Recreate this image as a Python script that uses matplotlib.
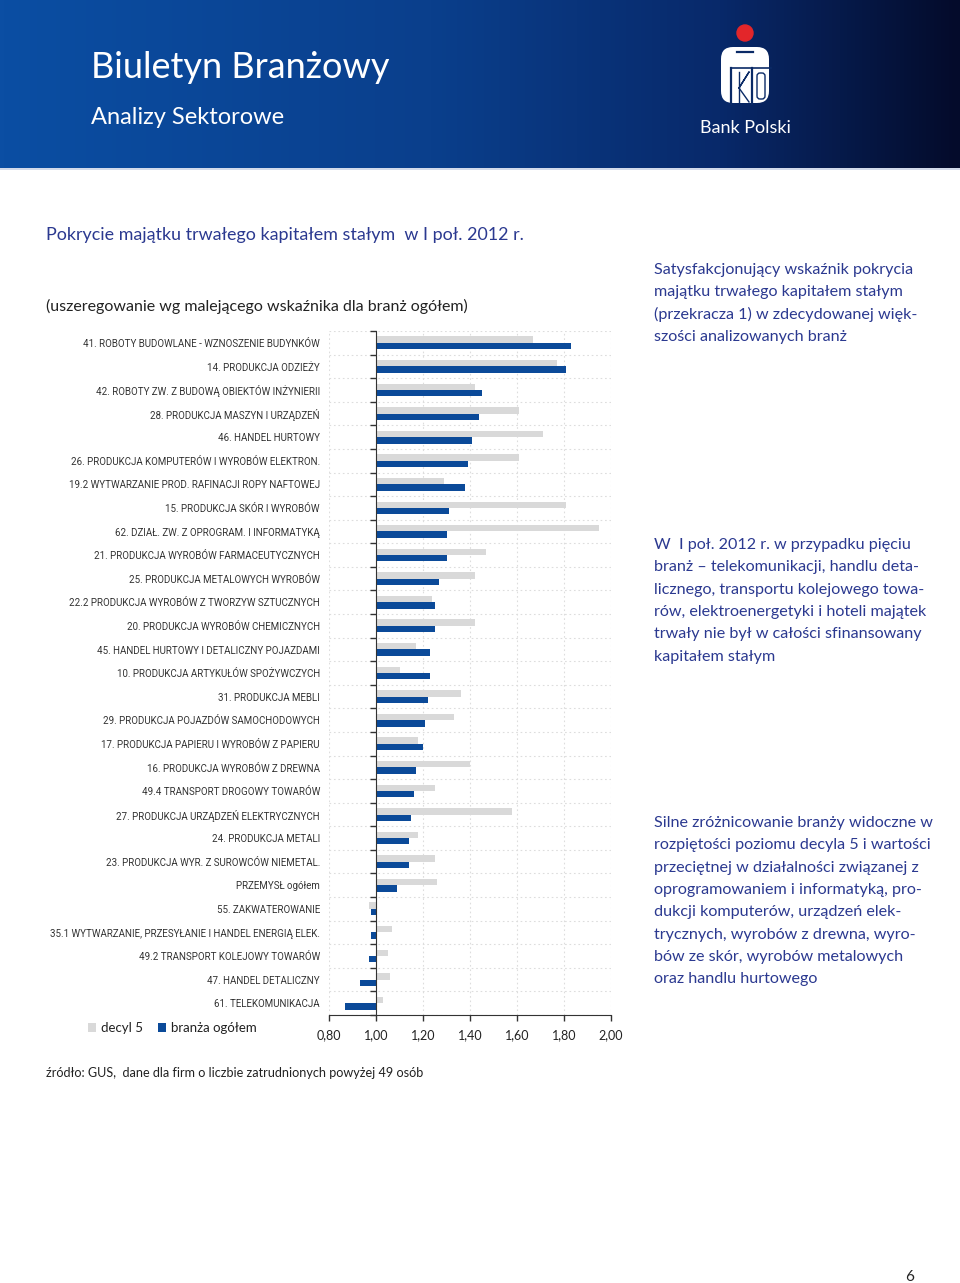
import numpy as np
import matplotlib
matplotlib.use("Agg")
import matplotlib.pyplot as plt
from matplotlib.colors import LinearSegmentedColormap
from matplotlib.patches import Circle, FancyBboxPatch

# dane
kategorie = [
    "41. ROBOTY BUDOWLANE - WZNOSZENIE BUDYNKÓW",
    "14. PRODUKCJA ODZIEŻY",
    "42. ROBOTY ZW. Z BUDOWĄ OBIEKTÓW INŻYNIERII",
    "28. PRODUKCJA MASZYN I URZĄDZEŃ",
    "46. HANDEL HURTOWY",
    "26. PRODUKCJA KOMPUTERÓW I WYROBÓW ELEKTRON.",
    "19.2 WYTWARZANIE PROD. RAFINACJI ROPY NAFTOWEJ",
    "15. PRODUKCJA SKÓR I WYROBÓW",
    "62. DZIAŁ. ZW. Z OPROGRAM. I INFORMATYKĄ",
    "21. PRODUKCJA WYROBÓW FARMACEUTYCZNYCH",
    "25. PRODUKCJA METALOWYCH WYROBÓW",
    "22.2 PRODUKCJA WYROBÓW Z TWORZYW SZTUCZNYCH",
    "20. PRODUKCJA WYROBÓW CHEMICZNYCH",
    "45. HANDEL HURTOWY I DETALICZNY POJAZDAMI",
    "10. PRODUKCJA ARTYKUŁÓW SPOŻYWCZYCH",
    "31. PRODUKCJA MEBLI",
    "29. PRODUKCJA POJAZDÓW SAMOCHODOWYCH",
    "17. PRODUKCJA PAPIERU I WYROBÓW Z PAPIERU",
    "16. PRODUKCJA WYROBÓW Z DREWNA",
    "49.4 TRANSPORT DROGOWY TOWARÓW",
    "27. PRODUKCJA URZĄDZEŃ ELEKTRYCZNYCH",
    "24. PRODUKCJA METALI",
    "23. PRODUKCJA WYR. Z SUROWCÓW NIEMETAL.",
    "PRZEMYSŁ ogółem",
    "55. ZAKWATEROWANIE",
    "35.1 WYTWARZANIE, PRZESYŁANIE I HANDEL ENERGIĄ ELEK.",
    "49.2 TRANSPORT KOLEJOWY TOWARÓW",
    "47. HANDEL DETALICZNY",
    "61. TELEKOMUNIKACJA",
]
decyl5 = [1.67, 1.77, 1.42, 1.61, 1.71, 1.61, 1.29, 1.81, 1.95, 1.47,
          1.42, 1.24, 1.42, 1.17, 1.10, 1.36, 1.33, 1.18, 1.40, 1.25,
          1.58, 1.18, 1.25, 1.26, 0.97, 1.07, 1.05, 1.06, 1.03]
ogolem = [1.83, 1.81, 1.45, 1.44, 1.41, 1.39, 1.38, 1.31, 1.30, 1.30,
          1.27, 1.25, 1.25, 1.23, 1.23, 1.22, 1.21, 1.20, 1.17, 1.16,
          1.15, 1.14, 1.14, 1.09, 0.98, 0.98, 0.97, 0.93, 0.87]
xticks = [0.8, 1.0, 1.2, 1.4, 1.6, 1.8, 2.0]
legenda = ["decyl 5", "branża ogółem"]

tekst1 = ["Satysfakcjonujący wskaźnik pokrycia",
          "majątku trwałego kapitałem stałym",
          "(przekracza 1) w zdecydowanej więk-",
          "szości analizowanych branż"]
tekst2 = ["W  I poł. 2012 r. w przypadku pięciu",
          "branż – telekomunikacji, handlu deta-",
          "licznego, transportu kolejowego towa-",
          "rów, elektroenergetyki i hoteli majątek",
          "trwały nie był w całości sfinansowany",
          "kapitałem stałym"]
tekst3 = ["Silne zróżnicowanie branży widoczne w",
          "rozpiętości poziomu decyla 5 i wartości",
          "przeciętnej w działalności związanej z",
          "oprogramowaniem i informatyką, pro-",
          "dukcji komputerów, urządzeń elek-",
          "trycznych, wyrobów z drewna, wyro-",
          "bów ze skór, wyrobów metalowych",
          "oraz handlu hurtowego"]

SZARY = "#d9d9d9"
NIEBIESKI = "#0b4a99"
GRANAT = "#2b3990"
TXT = "#222222"
BODY = "Lato"
COND = "Roboto"

W, H = 960, 1283
fig = plt.figure(figsize=(W / 100, H / 100), dpi=100)

# tło strony w pikselach
bg = fig.add_axes([0, 0, 1, 1], zorder=0)
bg.set_xlim(0, W)
bg.set_ylim(H, 0)
bg.axis("off")

cmap = LinearSegmentedColormap.from_list(
    "hdr", [(0, "#0b4ea3"), (0.45, "#0a3f8c"), (0.75, "#08296a"), (1, "#040b2b")])
grad = np.linspace(0, 1, 256).reshape(1, -1)
bg.imshow(grad, cmap=cmap, extent=(0, W, 168, 0), aspect="auto", zorder=0)
bg.plot([0, W], [168.5, 168.5], color="#c9d3e6", lw=1.2, zorder=1)

bg.text(91, 78, "Biuletyn Branżowy", color="white", fontsize=26, family=BODY,
        va="baseline", ha="left")
bg.text(91, 124, "Analizy Sektorowe", color="white", fontsize=17, family=BODY,
        va="baseline", ha="left")

# logo
bg.add_patch(Circle((745, 33), 8, color="#e3262a", zorder=3))
bg.add_patch(FancyBboxPatch((721, 47), 48, 56, boxstyle="round,pad=0,rounding_size=12",
                            fc="white", ec="none", zorder=3))
bg.plot([737, 753], [52, 52], color="#0a2a66", lw=1.6, zorder=4)
bg.plot([731, 771], [68, 68], color="#0a2a66", lw=1.2, zorder=4)
bg.plot([731, 731], [68, 104], color="#0a2a66", lw=1.6, zorder=4)
bg.plot([752, 752], [68, 104], color="#0a2a66", lw=1.6, zorder=4)
bg.plot([739, 739], [72, 102], color="#0a2a66", lw=1.0, zorder=4)
bg.plot([739, 749, 739, 749], [88, 72, 88, 102], color="#0a2a66", lw=1.0, zorder=4)
bg.add_patch(FancyBboxPatch((757, 73), 8, 26, boxstyle="round,pad=0,rounding_size=3",
                            fc="none", ec="#0a2a66", lw=1.0, zorder=4))
bg.text(745, 133, "Bank Polski", color="white", fontsize=13, family=BODY,
        ha="center", va="baseline")

bg.text(46, 240, "Pokrycie majątku trwałego kapitałem stałym  w I poł. 2012 r.",
        color=GRANAT, fontsize=12.9, family=BODY, va="baseline")
bg.text(46, 311, "(uszeregowanie wg malejącego wskaźnika dla branż ogółem)",
        color=TXT, fontsize=11.5, family=BODY, va="baseline")

for blok, y0 in [(tekst1, 274), (tekst2, 549), (tekst3, 827)]:
    for i, linia in enumerate(blok):
        bg.text(654, y0 + i * 22.3, linia, color=GRANAT, fontsize=11.6,
                family=BODY, va="baseline")

bg.text(46, 1077, "źródło: GUS,  dane dla firm o liczbie zatrudnionych powyżej 49 osób",
        color=TXT, fontsize=9.1, family=BODY, va="baseline")
bg.text(910, 1281, "6", color=TXT, fontsize=11, family=BODY, ha="center", va="baseline")

# wykres
ax = fig.add_axes([329 / W, 1 - 1015 / H, 282 / W, (1015 - 331) / H], zorder=2)
ax.patch.set_alpha(0)
n = len(kategorie)
y = np.arange(n)
h = 0.27
b1 = ax.barh(y - h / 2, np.array(decyl5) - 1.0, left=1.0, height=h, color=SZARY, zorder=2)
b2 = ax.barh(y + h / 2, np.array(ogolem) - 1.0, left=1.0, height=h, color=NIEBIESKI, zorder=2)

ax.set_xlim(0.8, 2.0)
ax.set_ylim(n - 0.5, -0.5)
ax.set_xticks(xticks)
ax.set_xticklabels([f"{t:.2f}".replace(".", ",") for t in xticks],
                   fontsize=9, family=BODY, color=TXT)
ax.tick_params(axis="x", direction="out", length=4, width=1, color="#333333", pad=6)
ax.set_yticks([])
ax.set_yticks(np.arange(n + 1) - 0.5, minor=True)
ax.tick_params(axis="y", which="minor", direction="out", length=4, width=1,
               color="#333333", labelleft=False)
ax.grid(axis="x", which="major", linestyle=(0, (1.5, 2.5)), color="#dddddd", lw=0.8, zorder=0)
ax.grid(axis="y", which="minor", linestyle=(0, (1.5, 2.5)), color="#dddddd", lw=0.8, zorder=0)
ax.spines["left"].set_position(("data", 1.0))
ax.spines["left"].set_color("#333333")
ax.spines["bottom"].set_color("#333333")
ax.spines["top"].set_visible(False)
ax.spines["right"].set_visible(False)
ax.set_axisbelow(True)

for yi, lab in zip(y, kategorie):
    ax.text(-0.032, yi + 0.05, lab, transform=ax.get_yaxis_transform(), ha="right",
            va="center", fontsize=7, family=COND, color="#333333")

ax.legend([b1, b2], legenda, loc="center left", ncol=2, frameon=False,
          bbox_to_anchor=(88 / W, 1 - 1028 / H), bbox_transform=fig.transFigure,
          handlelength=0.6, handleheight=0.6, handletextpad=0.35, columnspacing=1.2,
          borderpad=0, borderaxespad=0, prop={"family": BODY, "size": 9.5},
          labelcolor=TXT)

fig.savefig("out.png", dpi=100)
